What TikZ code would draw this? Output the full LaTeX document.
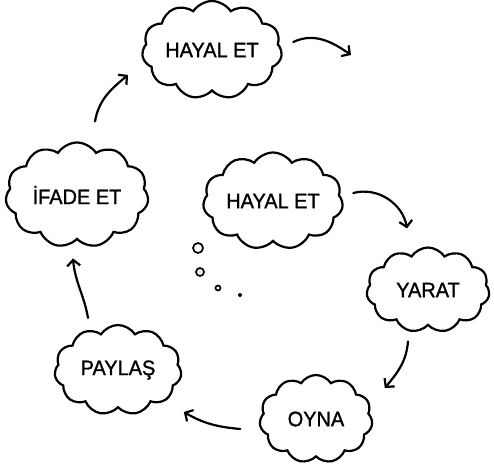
\documentclass[tikz,border=0pt]{standalone}
\usepackage{fontspec}
\setmainfont[FakeStretch=0.95, FakeBold=1.2]{Liberation Sans}
\usetikzlibrary{shapes.symbols,arrows.meta,positioning}

\begin{document}
\begin{tikzpicture}[
        x=1pt, y=1pt,
        every node/.style={font=\fontsize{21}{24}\selectfont},
        thought/.style={cloud, cloud puffs=11, cloud puff arc=115, cloud ignores aspect, draw=black, line width=2.2pt, fill=white, inner sep=0pt, align=center},
        flow/.style={-{Straight Barb[length=6pt, width=13pt]}, line width=2.2pt, line cap=round},
        dotbubble/.style={circle, draw=black, line width=1.7pt, inner sep=0pt}
        ]
        \useasboundingbox (0,0) rectangle (494,466);

        % the cycle of clouds
        \node[thought, minimum width=140pt, minimum height=98pt] (hayaltop) at (212, 416) {HAYAL ET};
        \node[thought, minimum width=143pt, minimum height=105pt] (ifade) at (77, 271) {İFADE ET};
        \node[thought, minimum width=140pt, minimum height=97pt] (hayalmid) at (273, 265) {HAYAL ET};
        \node[thought, minimum width=123pt, minimum height=85pt] (yarat) at (428, 176) {YARAT};
        \node[thought, minimum width=113pt, minimum height=88pt] (oyna) at (316, 47) {OYNA};
        \node[thought, minimum width=127pt, minimum height=90pt] (paylas) at (118, 96) {PAYLAŞ};
        \coordinate (topend) at (351, 411);

        % little thought bubbles
        \node[dotbubble, minimum size=10pt] (b1) at (198, 218) {};
        \node[dotbubble, minimum size=8pt] (b2) at (200, 194) {};
        \node[dotbubble, minimum size=5pt] (b3) at (218, 178) {};
        \node[circle, fill=black, inner sep=0pt, minimum size=4pt] (b4) at (240, 171) {};

        % arrows between clouds
        \draw[flow] ([shift={(11,8)}]hayaltop.east) to[out=25, in=145] (topend);
        \draw[flow] ([shift={(10,8)}]hayalmid.east) to[out=15, in=100] ([shift={(-21,18)}]yarat.north);
        \draw[flow] ([shift={(-20,-15)}]yarat.south) to[out=-95, in=50] ([shift={(12,31)}]oyna.east);
        \draw[flow] ([shift={(-19,-10)}]oyna.west) to[out=175, in=-30] ([shift={(2,-42)}]paylas.east);
        \draw[flow] ([shift={(-30,6)}]paylas.north) to[out=100, in=-85] ([shift={(-4,-18)}]ifade.south);
        \draw[flow] ([shift={(18,20)}]ifade.north) to[out=80, in=-140] ([shift={(-84,17)}]hayaltop.south);
\end{tikzpicture}
\end{document}
